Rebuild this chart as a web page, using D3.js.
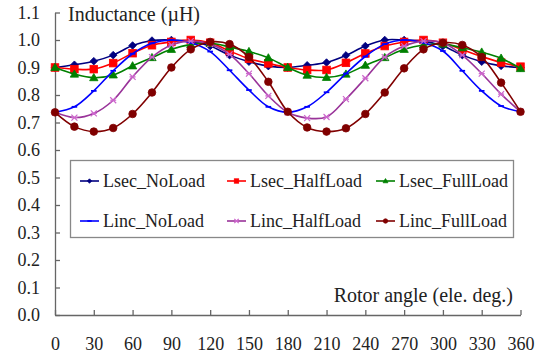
<!DOCTYPE html>
<html>
<head>
<meta charset="utf-8">
<script src="https://cdn.jsdelivr.net/npm/d3@7"></script>
<style>
  body { margin: 0; background: #fff; }
  svg { display: block; font-family: "Liberation Serif", "Times New Roman", serif; }
</style>
</head>
<body>
<svg id="chart" width="555" height="356"></svg>
<script>
const angles = d3.range(0, 361, 15);
const xTicks = [0, 30, 60, 90, 120, 150, 180, 210, 240, 270, 300, 330, 360];
const yTicks = [0, 0.1, 0.2, 0.3, 0.4, 0.5, 0.6, 0.7, 0.8, 0.9, 1.0, 1.1];

const seriesNames = ['Lsec_NoLoad', 'Lsec_HalfLoad', 'Lsec_FullLoad', 'Linc_NoLoad', 'Linc_HalfLoad', 'Linc_FullLoad'];

const lsecNoLoad = [0.900, 0.910, 0.923, 0.945, 0.980, 0.998, 1.000, 0.995, 0.978, 0.945, 0.921, 0.905, 0.900,
  0.908, 0.918, 0.944, 0.978, 1.000, 1.000, 0.996, 0.978, 0.945, 0.921, 0.906, 0.900];
const lsecHalfLoad = [0.900, 0.894, 0.894, 0.916, 0.952, 0.981, 0.993, 1.000, 0.990, 0.960, 0.932, 0.915, 0.900,
  0.891, 0.891, 0.917, 0.951, 0.978, 0.993, 1.000, 0.990, 0.965, 0.940, 0.918, 0.903];
const lsecFullLoad = [0.900, 0.876, 0.863, 0.873, 0.906, 0.936, 0.966, 0.984, 0.988, 0.975, 0.958, 0.935, 0.900,
  0.872, 0.864, 0.876, 0.908, 0.936, 0.966, 0.982, 0.985, 0.972, 0.956, 0.934, 0.896];
const lincNoLoad = [0.737, 0.757, 0.815, 0.888, 0.950, 0.988, 1.000, 0.990, 0.958, 0.890, 0.818, 0.757, 0.737,
  0.757, 0.810, 0.878, 0.940, 0.985, 1.000, 0.990, 0.960, 0.888, 0.815, 0.760, 0.739];
const lincHalfLoad = [0.737, 0.718, 0.733, 0.781, 0.866, 0.938, 0.982, 0.996, 0.985, 0.948, 0.878, 0.797, 0.737,
  0.716, 0.720, 0.785, 0.861, 0.938, 0.978, 0.996, 0.990, 0.945, 0.878, 0.803, 0.739];
const lincFullLoad = [0.737, 0.685, 0.667, 0.680, 0.731, 0.809, 0.900, 0.966, 0.993, 0.985, 0.938, 0.848, 0.739,
  0.682, 0.667, 0.679, 0.731, 0.809, 0.897, 0.966, 0.990, 0.982, 0.938, 0.845, 0.739];

const seriesValues = [lsecNoLoad, lsecHalfLoad, lsecFullLoad, lincNoLoad, lincHalfLoad, lincFullLoad];

const colors = ['#000080', '#ff0000', '#008000', '#0000ff', '#993399', '#800000'];
const markerFill = ['#000080', '#ff0000', '#008000', '#0000ff', '#cc66cc', '#800000'];
const markerShapes = ['diamond', 'square', 'triangle', 'dash', 'star', 'circle'];

const svg = d3.select('#chart');
const margin = {left: 55, right: 34.5, top: 12.5, bottom: 41};
const width = 555 - margin.left - margin.right;
const height = 356 - margin.top - margin.bottom;

const x = d3.scaleLinear().domain([0, 360]).range([margin.left, margin.left + width]);
const y = d3.scaleLinear().domain([0, 1.1]).range([margin.top + height, margin.top]);

const axisColor = '#666';
const fontSize = 18;

// axes with inward ticks
const xAxis = svg.append('g')
  .attr('transform', `translate(0,${y(0)})`)
  .call(d3.axisBottom(x).tickValues(xTicks).tickSizeInner(-5).tickSizeOuter(0).tickPadding(22));
const yAxis = svg.append('g')
  .attr('transform', `translate(${x(0)},0)`)
  .call(d3.axisLeft(y).tickValues(yTicks).tickFormat(d3.format('.1f')).tickSizeInner(-5).tickSizeOuter(0).tickPadding(15));

[xAxis, yAxis].forEach(a => {
  a.select('.domain').attr('stroke', axisColor).attr('stroke-width', 1.3);
  a.selectAll('.tick line').attr('stroke', axisColor).attr('stroke-width', 1.3);
  a.selectAll('.tick text').attr('fill', '#222').style('font-size', fontSize + 'px')
    .style('font-family', '"Liberation Serif", serif');
});

svg.append('text').attr('x', 68).attr('y', 21).attr('fill', '#222')
  .style('font-size', '20px').text('Inductance (\u00b5H)');
svg.append('text').attr('x', 513).attr('y', 302).attr('text-anchor', 'end').attr('fill', '#222')
  .style('font-size', '20px').text('Rotor angle (ele. deg.)');

function drawMarker(g, shape, s, stroke, fill) {
  if (shape === 'diamond') {
    g.append('path').attr('d', `M0,${-s}L${s},0L0,${s}L${-s},0Z`).attr('fill', fill).attr('stroke', stroke).attr('stroke-width', 0.8);
  } else if (shape === 'square') {
    g.append('rect').attr('x', -s).attr('y', -s).attr('width', 2 * s).attr('height', 2 * s).attr('fill', fill).attr('stroke', stroke).attr('stroke-width', 0.8);
  } else if (shape === 'triangle') {
    g.append('path').attr('d', `M0,${-s * 1.1}L${s * 1.1},${s * 0.8}L${-s * 1.1},${s * 0.8}Z`).attr('fill', fill).attr('stroke', stroke).attr('stroke-width', 0.8);
  } else if (shape === 'circle') {
    g.append('circle').attr('r', s).attr('fill', fill).attr('stroke', stroke).attr('stroke-width', 0.8);
  } else if (shape === 'dash') {
    g.append('line').attr('x1', -s).attr('x2', s).attr('stroke', fill).attr('stroke-width', 1.8);
  } else if (shape === 'star') {
    g.append('path').attr('d', `M${-s},${-s}L${s},${s}M${-s},${s}L${s},${-s}M${-s},0L${s},0`)
      .attr('stroke', fill).attr('stroke-width', 1.2).attr('fill', 'none');
  }
}

const line = d3.line()
  .x((d, i) => x(angles[i]))
  .y(d => y(d))
  .curve(d3.curveCatmullRom.alpha(0.5));

const markerSize = [3.8, 3.8, 3.8, 2.8, 3, 3.8];

seriesValues.forEach((vals, k) => {
  const g = svg.append('g');
  g.append('path').datum(vals).attr('d', line).attr('fill', 'none')
    .attr('stroke', colors[k]).attr('stroke-width', 1.6);
  g.selectAll('g.pt').data(vals).enter().append('g').attr('class', 'pt')
    .attr('transform', (d, i) => `translate(${x(angles[i])},${y(d)})`)
    .each(function () { drawMarker(d3.select(this), markerShapes[k], markerSize[k], colors[k], markerFill[k]); });
});

// legend
const legend = svg.append('g');
legend.append('rect').attr('x', 70.5).attr('y', 160.5).attr('width', 443).attr('height', 77)
  .attr('fill', '#fff').attr('stroke', '#888').attr('stroke-width', 1.3);
const colX = [80, 227, 376];
const rowY = [181, 221];
seriesNames.forEach((name, k) => {
  const col = k % 3, row = Math.floor(k / 3);
  const gx = colX[col], gy = rowY[row];
  const item = legend.append('g').attr('transform', `translate(${gx},${gy})`);
  item.append('line').attr('x1', 0).attr('x2', 19).attr('stroke', colors[k]).attr('stroke-width', 1.6);
  const m = item.append('g').attr('transform', 'translate(9.5,0)');
  drawMarker(m, markerShapes[k], 2.2, colors[k], markerFill[k]);
  item.append('text').attr('x', 23).attr('y', 6).attr('fill', '#222')
    .style('font-size', fontSize + 'px').text(name);
});
</script>
</body>
</html>
